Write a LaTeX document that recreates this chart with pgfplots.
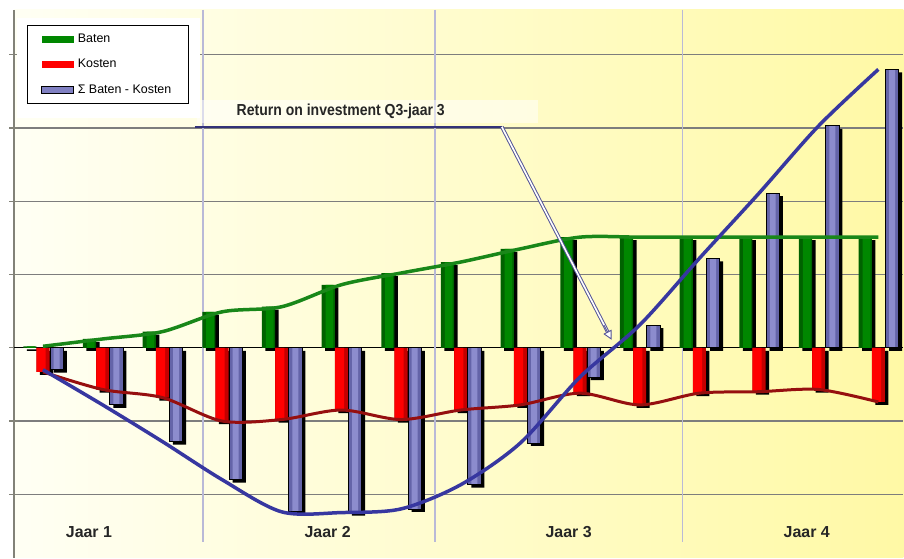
\documentclass[border=0pt]{standalone}
\usepackage{pgfplots}
\usepackage{pgfplotstable}
\pgfplotsset{compat=1.18}
\usepackage{fontspec}
\setmainfont{Liberation Sans}
\newfontfamily\annfont[FakeStretch=0.88]{Liberation Sans}
\usetikzlibrary{arrows.meta}

\definecolor{bgL}{RGB}{255,255,244}
\definecolor{bgR}{RGB}{255,249,165}
\definecolor{gridgray}{RGB}{125,125,125}
\definecolor{axisgray}{RGB}{130,130,120}
\definecolor{vline}{RGB}{185,185,215}
\definecolor{gL}{RGB}{0,98,0}
\definecolor{gM}{RGB}{0,135,0}
\definecolor{gLine}{RGB}{25,135,25}
\definecolor{rL}{RGB}{255,0,0}
\definecolor{rR}{RGB}{195,0,0}
\definecolor{rLine}{RGB}{150,15,15}
\definecolor{pL}{RGB}{100,100,168}
\definecolor{pM}{RGB}{140,140,205}
\definecolor{bLine}{RGB}{55,55,160}
\definecolor{annA}{RGB}{50,50,120}
\definecolor{annB}{RGB}{85,85,150}

\pgfplotstableread{
x baten kosten saldo
1  0.02 -0.33 -0.30
2  0.12 -0.57 -0.78
3  0.22 -0.68 -1.28
4  0.49 -1.00 -1.80
5  0.56 -0.98 -2.24
6  0.86 -0.85 -2.25
7  1.02 -0.98 -2.20
8  1.17 -0.85 -1.87
9  1.35 -0.78 -1.30
10 1.51 -0.62 -0.40
11 1.51 -0.78 0.31
12 1.51 -0.62 1.22
13 1.51 -0.60 2.11
14 1.51 -0.57 3.03
15 1.51 -0.74 3.80
}\data

\begin{document}
\begin{tikzpicture}
\begin{axis}[
  scale only axis, width=890bp, height=548bp,
  xmin=0.514, xmax=15.42, ymin=-2.865, ymax=4.611,
  axis x line=none, axis y line*=left,
  y axis line style={draw=axisgray, line width=1.5bp},
  xtick=\empty,
  ytick={-2,-1,0,1,2,3,4}, yticklabels={},
  ymajorgrids, grid style={draw=gridgray, line width=1.2bp},
  tick align=center, major tick length=9bp,
  tick style={draw=axisgray, line width=1.2bp},
  axis background/.style={left color=bgL, right color=bgR},
  legend style={at={(0.0146,0.9726)}, anchor=north west, draw=black,
    line width=0.8bp, fill=white, font=\fontsize{12.5}{14}\selectfont,
    row sep=12bp, inner xsep=14bp, inner ysep=7.5bp,
    nodes={inner ysep=1.5bp, inner xsep=3.5bp}},
  legend cell align=left,
]
% zero line
\draw[black, line width=1bp] (axis cs:0.514,0) -- (axis cs:15.42,0);
% year separators
\draw[vline, line width=1.2bp] (axis cs:3.68,4.611) -- (axis cs:3.68,-2.647);
\draw[vline, line width=1.2bp] (axis cs:7.57,4.611) -- (axis cs:7.57,-2.647);
\draw[vline, line width=1.2bp] (axis cs:11.72,4.611) -- (axis cs:11.72,-2.647);
% legend pad
\fill[white] (rel axis cs:0.0034,0.803) rectangle (rel axis cs:0.209,0.9854);

% shadows
\addplot[ybar, bar width=0.22, bar shift=-0.22, fill=black, draw=none, forget plot, xshift=3.5bp, yshift=-3bp] table[x=x,y=baten]{\data};
\addplot[ybar, bar width=0.22, bar shift=0, fill=black, draw=none, forget plot, xshift=3.5bp, yshift=-3bp] table[x=x,y=kosten]{\data};
\addplot[ybar, bar width=0.22, bar shift=0.23, fill=black, draw=none, forget plot, xshift=3.5bp, yshift=-3bp] table[x=x,y=saldo]{\data};

% bars
\addplot[ybar, bar width=0.22, bar shift=-0.22, draw=none, fill=gL,
  legend image code/.code={\fill[gM] (0bp,-3.5bp) rectangle (32bp,3.5bp);}] table[x=x,y=baten]{\data};
\addlegendentry{Baten}
\addplot[ybar, bar width=0.13, bar shift=-0.20, draw=none, fill=gM, forget plot] table[x=x,y=baten]{\data};
\addplot[ybar, bar width=0.22, bar shift=0, draw=none, fill=rR,
  legend image code/.code={\fill[rL] (0bp,-3.5bp) rectangle (32bp,3.5bp);}] table[x=x,y=kosten]{\data};
\addlegendentry{Kosten}
\addplot[ybar, bar width=0.15, bar shift=-0.03, draw=none, fill=rL, forget plot] table[x=x,y=kosten]{\data};
\addplot[ybar, bar width=0.22, bar shift=0.23, draw=none, fill=pL,
  legend image code/.code={\filldraw[fill=pM!70!pL, draw=black, line width=1bp] (0bp,-3.5bp) rectangle (32bp,3.5bp);}] table[x=x,y=saldo]{\data};
\addlegendentry{Σ Baten - Kosten}
\addplot[ybar, bar width=0.10, bar shift=0.23, draw=none, fill=pM, forget plot] table[x=x,y=saldo]{\data};
\addplot[ybar, bar width=0.22, bar shift=0.23, draw=black, line width=0.8bp, fill=none, forget plot] table[x=x,y=saldo]{\data};

% lines
\addplot[smooth, no markers, gLine, line width=3.5bp, forget plot] table[x=x,y=baten]{\data};
\addplot[smooth, no markers, rLine, line width=3bp, forget plot] table[x=x,y=kosten]{\data};
\addplot[smooth, no markers, bLine, line width=3.5bp, forget plot] table[x=x,y=saldo]{\data};

% annotation
\fill[white, opacity=0.5] (axis cs:3.58,3.07) rectangle (axis cs:9.29,3.38);
\node[font=\annfont\bfseries\fontsize{16}{18}\selectfont, text=black!85] at (axis cs:5.99,3.22) {Return on investment Q3-jaar 3};
\draw[annA, line width=2.2bp] (axis cs:3.546,3.015) -- (axis cs:8.69,3.015);
\draw[annB, line width=3.6bp] (axis cs:8.69,3.015) -- (axis cs:10.50,0.16);
\draw[white, line width=1.6bp] (axis cs:8.69,3.015) -- (axis cs:10.50,0.16);
\draw[annB, line width=0.9bp, -{Triangle[open, fill=white, length=9bp, width=9bp]}] (axis cs:10.40,0.31) -- (axis cs:10.53,0.109);

% year labels
\node[font=\bfseries\fontsize{16}{18}\selectfont, text=black!85] at (axis cs:1.77,-2.52) {Jaar 1};
\node[font=\bfseries\fontsize{16}{18}\selectfont, text=black!85] at (axis cs:5.77,-2.52) {Jaar 2};
\node[font=\bfseries\fontsize{16}{18}\selectfont, text=black!85] at (axis cs:9.81,-2.52) {Jaar 3};
\node[font=\bfseries\fontsize{16}{18}\selectfont, text=black!85] at (axis cs:13.8,-2.52) {Jaar 4};
\end{axis}
\path ([xshift=-14bp]current axis.south west) rectangle ([yshift=10bp]current axis.north east);
\end{tikzpicture}
\end{document}
